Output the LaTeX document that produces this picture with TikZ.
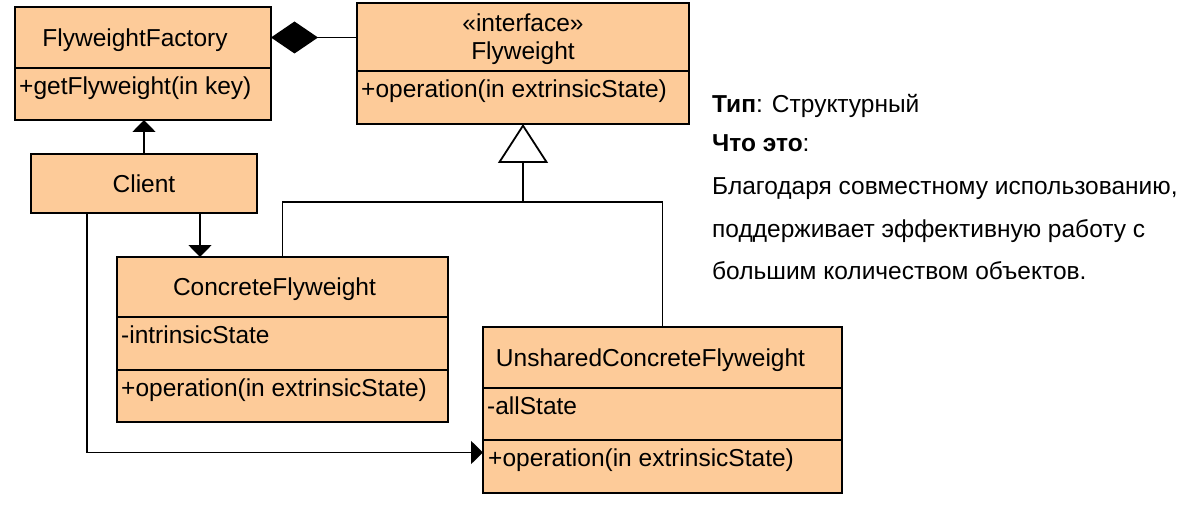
\documentclass[tikz,border=0pt]{standalone}
\usepackage{fontspec}
\setmainfont{Liberation Sans}
\usetikzlibrary{arrows.meta,positioning}
\definecolor{classfill}{RGB}{253,203,153}

\begin{document}
\begin{tikzpicture}[x=1pt, y=-1pt,
    classbox/.style={draw, line width=2.4pt, fill=classfill, inner sep=0pt, outer sep=0pt,
        text depth=0pt, font=\fontsize{24.5}{28}\selectfont},
    member/.style={anchor=base west, inner sep=0pt, font=\fontsize{24.5}{28}\selectfont},
    link/.style={line width=1.8pt},
    navig/.style={link, -{Triangle[length=12pt,width=23pt]}},
    note/.style={anchor=base west, inner sep=0pt, font=\fontsize{24.5}{28}\selectfont}]

    \useasboundingbox (0,0) rectangle (1195,508);

    %========================
    % FlyweightFactory
    %========================
    \node[classbox, minimum width=256pt, minimum height=61pt] (factory) at (143,37.5)
        {FlyweightFactory\hspace*{16pt}};
    \node[classbox, minimum width=256pt, minimum height=52pt, below=0pt of factory] (factoryops) {};
    \node[member] (factoryop) at ([xshift=4pt,yshift=-27pt]factoryops.north west) {+getFlyweight(in key)};

    %========================
    % Flyweight (interface)
    %========================
    \node[classbox, minimum width=332pt, minimum height=68pt, align=center] (flyweight) at (523,37)
        {«interface»\\Flyweight};
    \node[classbox, minimum width=332pt, minimum height=53pt, below=0pt of flyweight] (flyweightops) {};
    \node[member] (flyweightop) at ([xshift=4pt,yshift=-26.5pt]flyweightops.north west) {+operation(in extrinsicState)};

    %========================
    % Client
    %========================
    \node[classbox, minimum width=226pt, minimum height=59pt] (client) at (144,183.5) {Client};

    %========================
    % ConcreteFlyweight
    %========================
    \node[classbox, minimum width=331pt, minimum height=60pt] (concrete) at (282.5,287)
        {ConcreteFlyweight\hspace*{16pt}};
    \node[classbox, minimum width=331pt, minimum height=53pt, below=0pt of concrete] (concreteattrs) {};
    \node[classbox, minimum width=331pt, minimum height=52pt, below=0pt of concreteattrs] (concreteops) {};
    \node[member] (concreteattr) at ([xshift=4pt,yshift=-26.5pt]concreteattrs.north west) {-intrinsicState};
    \node[member] (concreteop) at ([xshift=4pt,yshift=-26.5pt]concreteops.north west) {+operation(in extrinsicState)};

    %========================
    % UnsharedConcreteFlyweight
    %========================
    \node[classbox, minimum width=359pt, minimum height=61pt] (unshared) at (662.5,357.5)
        {UnsharedConcreteFlyweight\hspace*{24pt}};
    \node[classbox, minimum width=359pt, minimum height=52pt, below=0pt of unshared] (unsharedattrs) {};
    \node[classbox, minimum width=359pt, minimum height=53pt, below=0pt of unsharedattrs] (unsharedops) {};
    \node[member] (unsharedattr) at ([xshift=4pt,yshift=-26.5pt]unsharedattrs.north west) {-allState};
    \node[member] (unsharedop) at ([xshift=5pt,yshift=-26.5pt]unsharedops.north west) {+operation(in extrinsicState)};

    %========================
    % Connectors
    %========================
    % Composition
    \draw[link, -{Diamond[length=47pt,width=32pt]}] (flyweight.west |- factory.east) -- (factory.east);

    % Generalization
    \coordinate (join) at (523,202);
    \draw[link] (concrete.north) |- (join) -| (unshared.north);
    \draw[link, -{Triangle[open, fill=white, length=39pt, width=50pt]}] (join) -- (flyweightops.south);

    % Client associations
    \draw[navig] (client.north) -- (client.north |- factoryops.south);
    \draw[navig] ([xshift=56pt]client.south) -- ([xshift=56pt]client.south |- concrete.north);
    \draw[navig] ([xshift=-57pt]client.south) |- ([yshift=14pt]unsharedops.west);

    %========================
    % Description
    %========================
    \node[note] (type) at (712,113) {\textbf{Тип}: Структурный};
    \node[note] (what) at (712,152) {\textbf{Что это}:};
    \node[note] (desc1) at (712,194) {Благодаря совместному использованию,};
    \node[note] (desc2) at (712,237) {поддерживает эффективную работу с};
    \node[note] (desc3) at (712,279) {большим количеством объектов.};

\end{tikzpicture}
\end{document}
